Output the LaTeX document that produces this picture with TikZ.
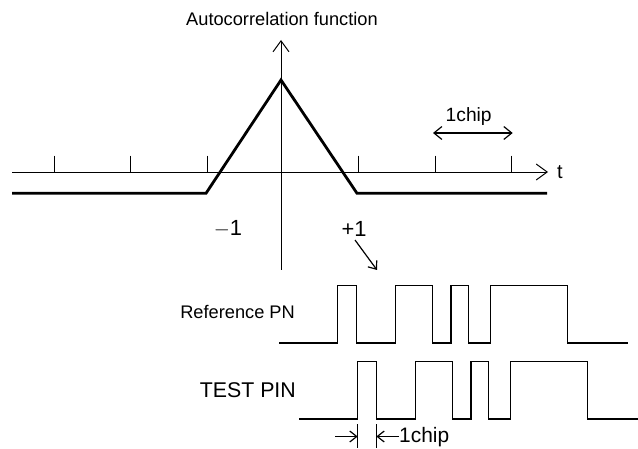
\documentclass[tikz,border=0pt]{standalone}
\usepackage{fontspec}
\setmainfont{Liberation Sans}
\usetikzlibrary{arrows.meta,positioning}
\tikzset{
axis/.style={line width=0.9pt},
acf/.style={line width=2.8pt, line join=miter},
wave/.style={line width=1.3pt},
tick/.style={line width=0.9pt},
bigbarb/.style={-{Straight Barb[length=11pt,width=16pt,line width=1pt]}},
chiparrow/.style={line width=1.2pt,{Straight Barb[length=8pt,width=13pt,line width=1.2pt]}-{Straight Barb[length=8pt,width=13pt,line width=1.2pt]}},
smallbarb/.style={line width=1.2pt,-{Straight Barb[length=7pt,width=11pt,line width=1.2pt]}},
lbl/.style={inner sep=0pt, font=\fontsize{18.3}{20}\selectfont},
}
% one PN waveform, edges of the reference code
\newcommand{\pnwave}[2]{%
  \draw[wave] (#1,343) -| (337.7,285.7) -| (356.3,343) -| (395.2,285.7) -| (432.5,343)
    -| (451,285.7) -| (468.5,343) -| (490.5,285.7) -| (567.2,343) -- (#2,343);}

\begin{document}
\begin{tikzpicture}[x=1bp,y=-1bp]
\useasboundingbox (0,0) rectangle (638,449);

% axes
\coordinate (tstart) at (12,172);
\coordinate (tend) at (548,172);
\coordinate (vbot) at (281,270);
\coordinate (vtop) at (281,40);
\draw[axis,bigbarb] (tstart) -- (tend);
\draw[axis,bigbarb] (vbot) -- (vtop);
\foreach \x in {54.3,130.7,207,358.7,435,511.3}
  \draw[tick] (\x,155.7) -- (\x,172);

% autocorrelation
\draw[acf] (12,193.3) -- (206,193.3) -- (281,80) -- (357,193.3) -- (547,193.3);

\node[lbl] (title) at (282,19) {Autocorrelation function};
\node[lbl, font=\fontsize{20}{22}\selectfont, anchor=west] (tlab) at (557,172) {t};
\node[lbl, font=\fontsize{22}{24}\selectfont] (minus) at (228,229) {$-$1};
\node[lbl, font=\fontsize{22}{24}\selectfont] (plus) at (354,229) {+1};

% 1chip on the time axis
\coordinate (cl) at (433,133);
\coordinate (cr) at (512.7,133);
\draw[chiparrow] (cl) -- (cr);
\node[lbl, font=\fontsize{19.3}{21}\selectfont] (chipup) at (468.7,117) {1chip};

% pointer to the waveforms
\coordinate (pa) at (355,240);
\coordinate (pb) at (377,270);
\draw[smallbarb] (pa) -- (pb);

% waveforms
\pnwave{279}{628}
\begin{scope}[shift={(20,76)}]
\pnwave{279}{618}
\end{scope}
\node[lbl, anchor=east] (refpn) at (295,312) {Reference PN};
\node[lbl, font=\fontsize{21.4}{23}\selectfont, anchor=east] (testpn) at (296,390) {TEST PIN};

% 1chip between the test edges
\draw[wave] (357.7,424) -- (357.7,448);
\draw[wave] (376.3,424) -- (376.3,448);
\coordinate (la) at (335,436.5);
\coordinate (lb) at (357.7,436.5);
\node[lbl, font=\fontsize{21}{23}\selectfont, anchor=west] (chiplow) at (399,437) {1chip};
\coordinate (rb) at (376.3,436.5);
\draw[smallbarb] (la) -- (lb);
\draw[smallbarb] (chiplow.west |- rb) -- (rb);
\end{tikzpicture}
\end{document}
